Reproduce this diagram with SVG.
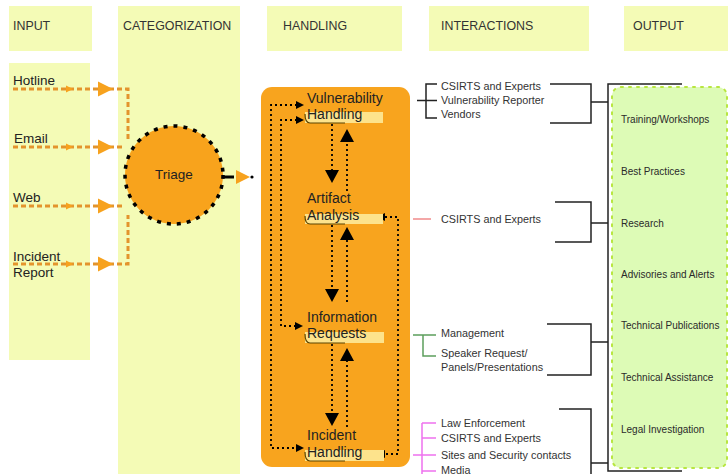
<svg xmlns="http://www.w3.org/2000/svg" width="728" height="474" viewBox="0 0 728 474">
<style>
.col{fill:#f4fbb6}
.hdr{font-family:"Liberation Sans",Arial,sans-serif;font-size:12.4px;fill:#333}
.inp{font-family:"Liberation Sans",Arial,sans-serif;font-size:13.5px;fill:#222}
.hnd{font-family:"Liberation Sans",Arial,sans-serif;font-size:14px;fill:#222}
.itx{font-family:"Liberation Sans",Arial,sans-serif;font-size:10.8px;fill:#333}
.otx{font-family:"Liberation Sans",Arial,sans-serif;font-size:10px;fill:#2a2a2a}
.odash{fill:none;stroke:#e3942c;stroke-width:3;stroke-dasharray:5 3}
.otri{fill:#f7a21e}
.bdot{fill:none;stroke:#000;stroke-width:1.8;stroke-dasharray:2 3}
.btri{fill:#000}
.bar{fill:#fde38c}
.sh{fill:none;stroke:#5a4400;stroke-width:1.2}
.brk{fill:none;stroke:#222;stroke-width:1.5}
.grn{fill:none;stroke:#5c9e5c;stroke-width:1.5}
.mag{fill:none;stroke:#ee72ee;stroke-width:1.5}
</style>

<g id="columns">
  <rect class="col" x="9" y="6" width="83" height="45"/>
  <rect class="col" x="9" y="63" width="81" height="297"/>
  <rect class="col" x="118" y="6" width="122" height="468"/>
  <rect class="col" x="267" y="6" width="135" height="45"/>
  <rect class="col" x="429" y="6" width="160" height="45"/>
  <rect class="col" x="624" y="6" width="104" height="45"/>
  <text class="hdr" x="13" y="30">INPUT</text>
  <text class="hdr" x="123" y="30">CATEGORIZATION</text>
  <text class="hdr" x="283" y="30">HANDLING</text>
  <text class="hdr" x="441" y="30">INTERACTIONS</text>
  <text class="hdr" x="633" y="30">OUTPUT</text>
</g>

<g id="inputs">
  <text class="inp" x="13" y="85">Hotline</text>
  <text class="inp" x="14" y="143">Email</text>
  <text class="inp" x="13" y="202">Web</text>
  <text class="inp" x="13" y="261">Incident</text>
  <text class="inp" x="13" y="277">Report</text>
</g>

<g id="handling-box">
  <rect x="261" y="87" width="149" height="380" rx="11" fill="#f8a41e"/>
</g>

<g id="connectors">
  <path class="odash" d="M13 89H128V140"/>
  <path class="odash" d="M13 147H122"/>
  <path class="odash" d="M13 206H122"/>
  <path class="odash" d="M13 264H128V215"/>
  <polygon class="otri" points="66,85.5 73,89 66,92.5"/>
  <polygon class="otri" points="98,81.5 113,89 98,96.5"/>
  <polygon class="otri" points="66,143.5 73,147 66,150.5"/>
  <polygon class="otri" points="98,139.5 113,147 98,154.5"/>
  <polygon class="otri" points="66,202.5 73,206 66,209.5"/>
  <polygon class="otri" points="98,198.5 113,206 98,213.5"/>
  <polygon class="otri" points="66,260.5 73,264 66,267.5"/>
  <polygon class="otri" points="98,256.5 113,264 98,271.5"/>
  <path d="M224 177H234" stroke="#000" stroke-width="3"/>
  <polygon class="otri" points="236,170 250,177 236,184"/>
  <circle cx="252" cy="177" r="1.6" fill="#000"/>

  <path class="bdot" d="M332 124V170"/>
  <polygon class="btri" points="325,170 339,170 332,183"/>
  <path class="bdot" d="M347 191V142"/>
  <polygon class="btri" points="340,142 354,142 347,129"/>
  <path class="bdot" d="M332 225V289"/>
  <polygon class="btri" points="325,289 339,289 332,302"/>
  <path class="bdot" d="M347 302V240"/>
  <polygon class="btri" points="340,240 354,240 347,227"/>
  <path class="bdot" d="M332 344V413"/>
  <polygon class="btri" points="325,413 339,413 332,426"/>
  <path class="bdot" d="M347 427V361"/>
  <polygon class="btri" points="340,361 354,361 347,348"/>

  <path class="bdot" d="M297 105H271V448H296"/>
  <polygon class="btri" points="296,101 304,105 296,109"/>
  <polygon class="btri" points="296,444 304,448 296,452"/>
  <path class="bdot" d="M297 120H281V326H295"/>
  <polygon class="btri" points="296,116 304,120 296,124"/>
  <polygon class="btri" points="295,322 303,326 295,330"/>
  <path class="bdot" d="M385 217H398V454H385"/>
  <polygon class="btri" points="385,213 377,217 385,221"/>
  <polygon class="btri" points="385,450 377,454 385,458"/>

  <path class="brk" d="M437 84H426V118H437M417 100.5H437"/>
  <path d="M413 219H431" stroke="#f08a8a" stroke-width="1.5"/>
  <path class="grn" d="M413 335H436M423 335V356H436"/>
  <path class="mag" d="M422 423V474M422 423H436M422 438H436M413 455H436M422 471H436"/>

  <path class="brk" d="M550 84H591V123H550M591 102H608"/>
  <path class="brk" d="M555 202H591V242H555M591 223H608"/>
  <path class="brk" d="M547 324H591V375H547M591 342H608"/>
  <path class="brk" d="M559 409H591V474M591 463H608"/>
  <path class="brk" d="M682 84H608V471H682"/>
</g>

<g id="triage">
  <circle cx="174" cy="175" r="49" fill="#f8a31c" stroke="#000" stroke-width="3.5" stroke-dasharray="4 6"/>
  <text class="inp" x="174" y="179" text-anchor="middle">Triage</text>
</g>

<g id="vulnerability-handling">
  <rect class="bar" x="305" y="112" width="78" height="11"/>
  <path class="sh" d="M305 114Q305 123 310 123H345"/>
  <text class="hnd" x="307" y="103">Vulnerability</text>
  <text class="hnd" x="307" y="119">Handling</text>
</g>
<g id="artifact-analysis">
  <rect class="bar" x="305" y="214" width="78" height="10"/>
  <path class="sh" d="M305 216Q305 224 310 224H345"/>
  <text class="hnd" x="307" y="203">Artifact</text>
  <text class="hnd" x="307" y="220">Analysis</text>
</g>
<g id="information-requests">
  <rect class="bar" x="305" y="332" width="79" height="11"/>
  <path class="sh" d="M305 334Q305 343 310 343H345"/>
  <text class="hnd" x="307" y="322">Information</text>
  <text class="hnd" x="307" y="338">Requests</text>
</g>
<g id="incident-handling">
  <rect class="bar" x="305" y="450" width="79" height="11"/>
  <path class="sh" d="M305 452Q305 461 310 461H345"/>
  <text class="hnd" x="307" y="440">Incident</text>
  <text class="hnd" x="307" y="457">Handling</text>
</g>

<g id="interactions-vulnerability">
  <text class="itx" x="441" y="90">CSIRTS and Experts</text>
  <text class="itx" x="441" y="104">Vulnerability Reporter</text>
  <text class="itx" x="441" y="118">Vendors</text>
</g>
<g id="interactions-artifact">
  <text class="itx" x="441" y="223">CSIRTS and Experts</text>
</g>
<g id="interactions-information">
  <text class="itx" x="441" y="337">Management</text>
  <text class="itx" x="441" y="357">Speaker Request/</text>
  <text class="itx" x="441" y="371">Panels/Presentations</text>
</g>
<g id="interactions-incident">
  <text class="itx" x="441" y="427">Law Enforcement</text>
  <text class="itx" x="441" y="442">CSIRTS and Experts</text>
  <text class="itx" x="441" y="459">Sites and Security contacts</text>
  <text class="itx" x="441" y="474">Media</text>
</g>

<g id="output">
  <rect x="612" y="87" width="115" height="381" rx="9" fill="#ddfbb6" stroke="#b8e640" stroke-width="2" stroke-dasharray="2 6" stroke-linecap="round"/>
  <text class="otx" x="621" y="123">Training/Workshops</text>
  <text class="otx" x="621" y="175">Best Practices</text>
  <text class="otx" x="621" y="227">Research</text>
  <text class="otx" x="621" y="278">Advisories and Alerts</text>
  <text class="otx" x="621" y="329">Technical Publications</text>
  <text class="otx" x="621" y="381">Technical Assistance</text>
  <text class="otx" x="621" y="433">Legal Investigation</text>
</g>
</svg>
